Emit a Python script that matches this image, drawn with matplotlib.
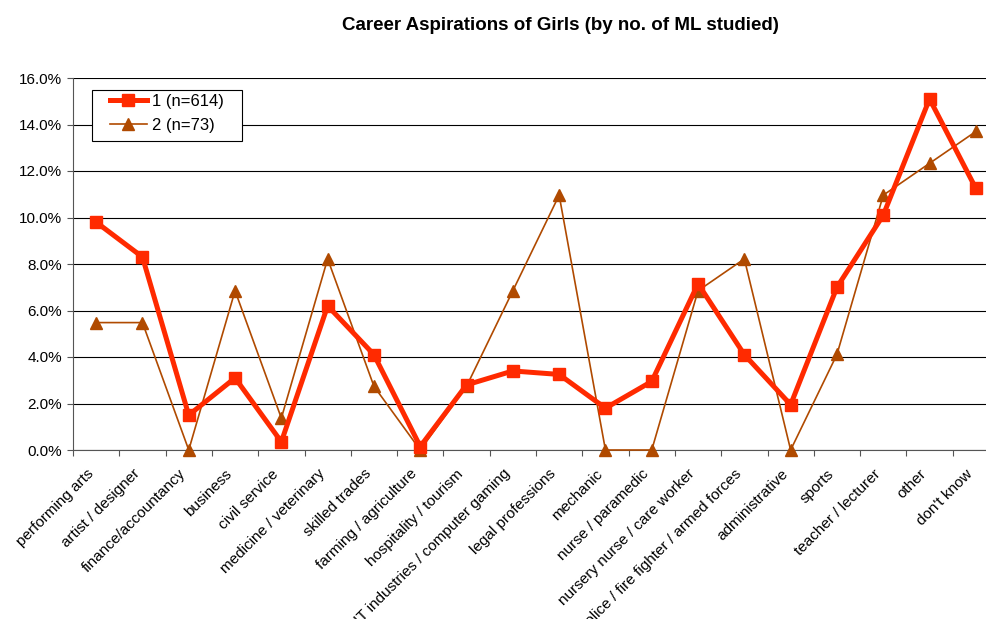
import matplotlib.pyplot as plt
import matplotlib.transforms as mtransforms
import numpy as np
from matplotlib.patches import Rectangle
from matplotlib.ticker import PercentFormatter

plt.rcParams['font.family'] = ['Liberation Sans', 'DejaVu Sans']

categories = ["performing arts", "artist / designer", "finance/accountancy", "business",
              "civil service", "medicine / veterinary", "skilled trades",
              "farming / agriculture", "hospitality / tourism",
              "IT industries / computer gaming", "legal professions", "mechanic",
              "nurse / paramedic", "nursery nurse / care worker",
              "police / fire fighter / armed forces", "administrative", "sports",
              "teacher / lecturer", "other", "don't know"]

ml1 = [9.8, 8.3, 1.5, 3.1, 0.35, 6.2, 4.1, 0.15, 2.8, 3.4,
       3.25, 1.8, 2.95, 7.15, 4.1, 1.95, 7.0, 10.1, 15.1, 11.25]
ml2 = [5.48, 5.48, 0.0, 6.85, 1.37, 8.22, 2.74, 0.0, 2.74, 6.85,
       10.96, 0.0, 0.0, 6.85, 8.22, 0.0, 4.11, 10.96, 12.33, 13.70]

W, H = 987, 619
fig = plt.figure(figsize=(W / 100, H / 100), dpi=100)
ax = fig.add_axes([73 / W, 1 - 450 / H, 926 / W, 372 / H])

x = np.arange(len(categories))
ax.plot(x, ml1, color='#ff2a00', lw=3.6, marker='s', markersize=8,
        label='1 (n=614)', zorder=4, clip_on=False)
ax.plot(x, ml2, color='#b04a00', lw=1.2, marker='^', markersize=8,
        label='2 (n=73)', zorder=3, clip_on=False)

ax.set_xlim(-0.5, len(categories) - 0.5)
ax.set_ylim(0, 16)
ax.set_yticks(np.arange(0, 16.1, 2))
ax.yaxis.set_major_formatter(PercentFormatter(decimals=1))
ax.yaxis.grid(True, color='black', lw=0.8)
ax.set_axisbelow(True)

ax.set_xticks(np.arange(-0.5, len(categories), 1), minor=False)
ax.set_xticklabels([])
ax.set_xticks(x, minor=True)
ax.set_xticklabels(categories, minor=True, rotation=45, ha='right',
                   rotation_mode='anchor', fontsize=11)
ax.tick_params(axis='x', which='minor', length=0, pad=12)
ax.tick_params(axis='x', which='major', length=4, color='#555555')
ax.tick_params(axis='y', length=4, color='#555555', labelsize=11, pad=4)

shift = mtransforms.ScaledTranslation(-10 / 100, 0, fig.dpi_scale_trans)
for lbl in ax.get_xticklabels(minor=True):
    lbl.set_transform(lbl.get_transform() + shift)

for s in ['top', 'right']:
    ax.spines[s].set_visible(False)
for s in ['left', 'bottom']:
    ax.spines[s].set_color('#555555')

# legend box drawn separately so its padding matches the original
fig.patches.append(Rectangle((92 / W, 1 - 141 / H), 150 / W, 51 / H,
                             transform=fig.transFigure, facecolor='white',
                             edgecolor='black', lw=0.8, zorder=5))
leg = fig.legend(loc='upper left', bbox_to_anchor=(110 / W, 1 - 94 / H),
                 fontsize=12, frameon=False, borderpad=0, handlelength=2.2,
                 handletextpad=0.3, labelspacing=0.56, borderaxespad=0)
leg.set_zorder(6)

fig.text(560 / W, 1 - 26 / H, 'Career Aspirations of Girls (by no. of ML studied)',
         ha='center', va='center', fontsize=13.5, fontweight='bold')

fig.savefig('out.png', dpi=100)
